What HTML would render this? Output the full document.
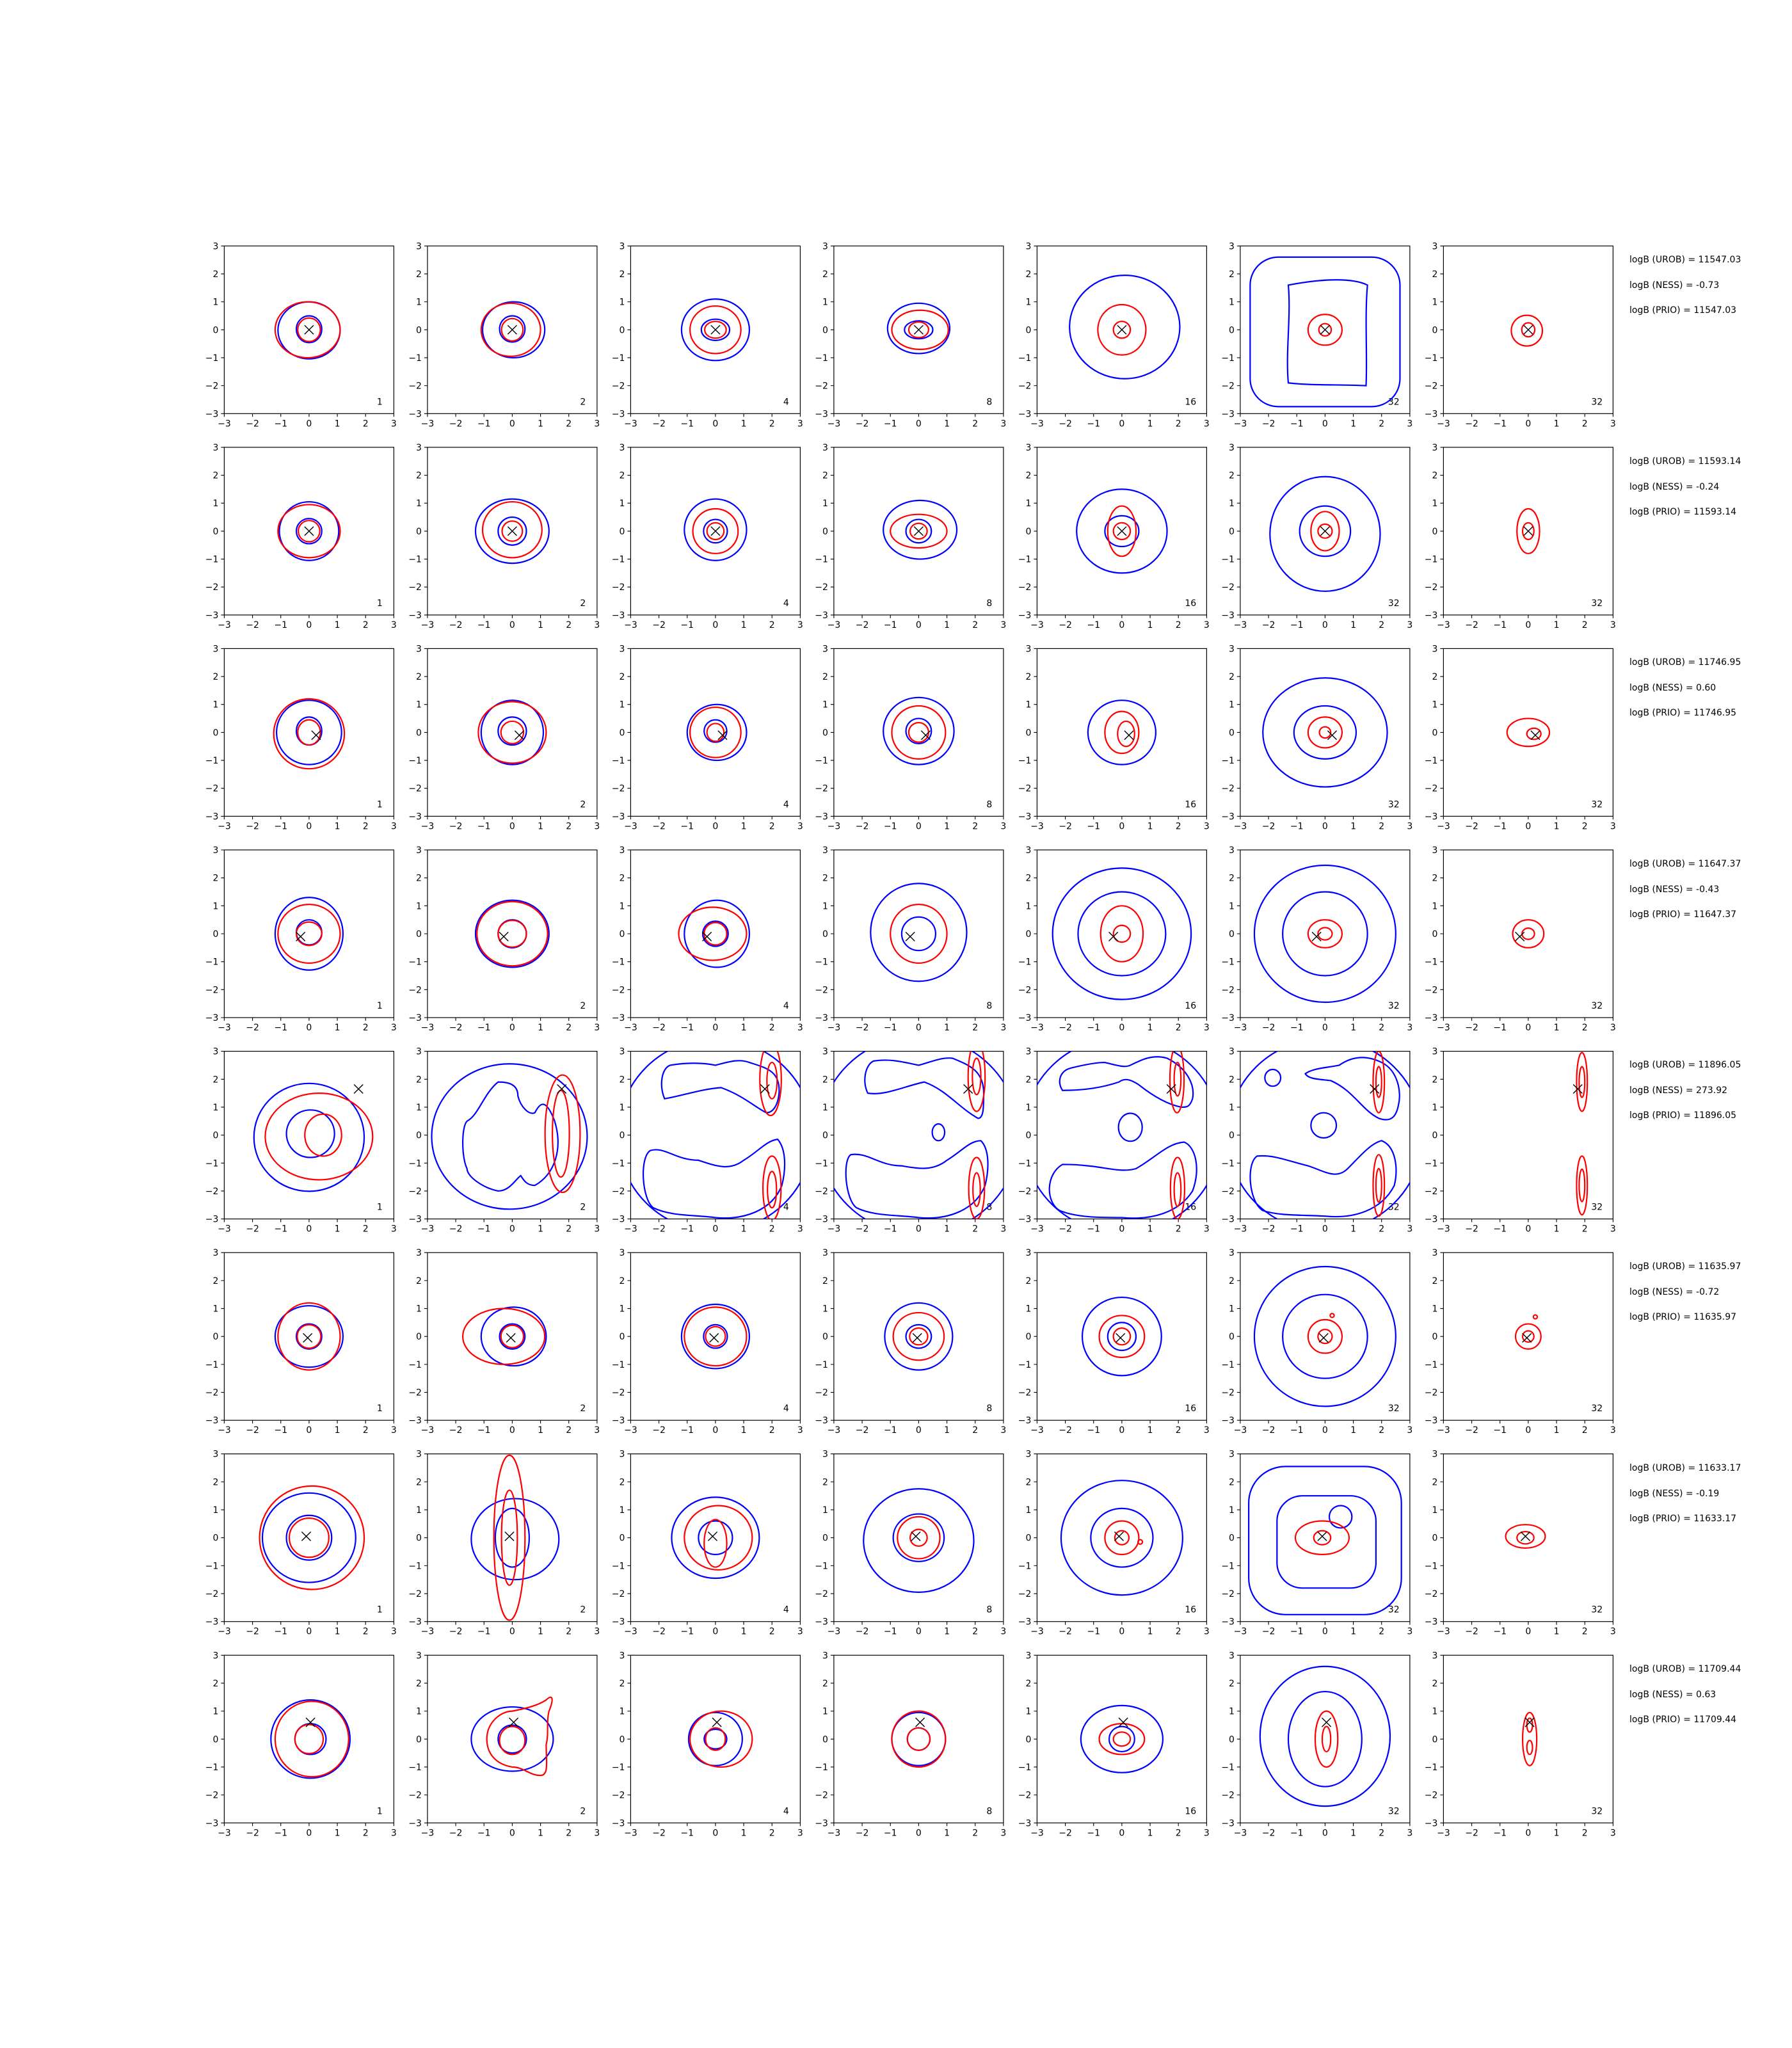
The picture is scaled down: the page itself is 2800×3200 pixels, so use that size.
<!DOCTYPE html>
<html><head><meta charset="utf-8"><style>
html,body{margin:0;padding:0;background:#fff;width:2800px;height:3200px;overflow:hidden}
svg{display:block}
text{font-family:"DejaVu Sans","Liberation Sans",sans-serif;font-size:14px;fill:#000}
.xl{text-anchor:middle}.yl{text-anchor:end}
.b,.r,.k{fill:none;vector-effect:non-scaling-stroke}
.b{stroke:#0000ff;stroke-width:2.2}.r{stroke:#ff0000;stroke-width:2.2}.k{stroke:#000;stroke-width:1.4}
</style></head><body>
<svg width="2800" height="3200" viewBox="0 0 2800 3200" xmlns="http://www.w3.org/2000/svg">
<defs>
<g id="ax"><rect x="0" y="0" width="265" height="262" fill="none" stroke="#000" stroke-width="1.2"/>
<path d="M0 262v5M44.17 262v5M88.33 262v5M132.5 262v5M176.67 262v5M220.83 262v5M265 262v5M0 0h-5M0 43.67h-5M0 87.33h-5M0 131h-5M0 174.67h-5M0 218.33h-5M0 262h-5" stroke="#000" stroke-width="1.1"/></g>
<clipPath id="cp" clipPathUnits="userSpaceOnUse"><rect x="-3" y="-3" width="6" height="6"/></clipPath>
<path id="mk" class="k" d="M-0.16,-0.16L0.16,0.16M-0.16,0.16L0.16,-0.16"/>
</defs>
<rect width="2800" height="3200" fill="#fff"/>

<!-- ROW 1 -->
<g transform="translate(350.4,384.3)"><use href="#ax"/><text class="xl" y="282"><tspan x="0">−3</tspan><tspan x="44.2">−2</tspan><tspan x="88.3">−1</tspan><tspan x="132.5">0</tspan><tspan x="176.7">1</tspan><tspan x="220.8">2</tspan><tspan x="265">3</tspan></text><text class="yl"><tspan x="-9" y="5">3</tspan><tspan x="-9" y="48.7">2</tspan><tspan x="-9" y="92.3">1</tspan><tspan x="-9" y="136">0</tspan><tspan x="-9" y="179.7">−1</tspan><tspan x="-9" y="223.3">−2</tspan><tspan x="-9" y="267">−3</tspan></text><text x="238.5" y="248">1</text>
<g transform="translate(132.5,131) scale(44.17,-43.67)" clip-path="url(#cp)"><ellipse class="b" cx="0" cy="-0.02" rx="1.1" ry="1.02"/><ellipse class="r" cx="-0.05" cy="0" rx="1.15" ry="1.0"/><ellipse class="b" cx="0" cy="0.02" rx="0.45" ry="0.48"/><ellipse class="r" cx="0" cy="0" rx="0.4" ry="0.42"/><use href="#mk"/></g></g>

<g transform="translate(667.9,384.3)"><use href="#ax"/><text class="xl" y="282"><tspan x="0">−3</tspan><tspan x="44.2">−2</tspan><tspan x="88.3">−1</tspan><tspan x="132.5">0</tspan><tspan x="176.7">1</tspan><tspan x="220.8">2</tspan><tspan x="265">3</tspan></text><text class="yl"><tspan x="-9" y="5">3</tspan><tspan x="-9" y="48.7">2</tspan><tspan x="-9" y="92.3">1</tspan><tspan x="-9" y="136">0</tspan><tspan x="-9" y="179.7">−1</tspan><tspan x="-9" y="223.3">−2</tspan><tspan x="-9" y="267">−3</tspan></text><text x="238.5" y="248">2</text>
<g transform="translate(132.5,131) scale(44.17,-43.67)" clip-path="url(#cp)"><ellipse class="b" cx="0.05" cy="0" rx="1.1" ry="1.0"/><ellipse class="r" cx="-0.05" cy="0" rx="1.05" ry="0.95"/><ellipse class="b" cx="0" cy="0.03" rx="0.45" ry="0.47"/><ellipse class="r" cx="0" cy="0" rx="0.38" ry="0.4"/><use href="#mk"/></g></g>

<g transform="translate(985.4,384.3)"><use href="#ax"/><text class="xl" y="282"><tspan x="0">−3</tspan><tspan x="44.2">−2</tspan><tspan x="88.3">−1</tspan><tspan x="132.5">0</tspan><tspan x="176.7">1</tspan><tspan x="220.8">2</tspan><tspan x="265">3</tspan></text><text class="yl"><tspan x="-9" y="5">3</tspan><tspan x="-9" y="48.7">2</tspan><tspan x="-9" y="92.3">1</tspan><tspan x="-9" y="136">0</tspan><tspan x="-9" y="179.7">−1</tspan><tspan x="-9" y="223.3">−2</tspan><tspan x="-9" y="267">−3</tspan></text><text x="238.5" y="248">4</text>
<g transform="translate(132.5,131) scale(44.17,-43.67)" clip-path="url(#cp)"><ellipse class="b" cx="0" cy="0" rx="1.2" ry="1.1"/><ellipse class="r" cx="0" cy="0" rx="0.9" ry="0.85"/><ellipse class="b" cx="0" cy="0" rx="0.5" ry="0.38"/><ellipse class="r" cx="0" cy="0" rx="0.38" ry="0.3"/><use href="#mk"/></g></g>

<g transform="translate(1302.9,384.3)"><use href="#ax"/><text class="xl" y="282"><tspan x="0">−3</tspan><tspan x="44.2">−2</tspan><tspan x="88.3">−1</tspan><tspan x="132.5">0</tspan><tspan x="176.7">1</tspan><tspan x="220.8">2</tspan><tspan x="265">3</tspan></text><text class="yl"><tspan x="-9" y="5">3</tspan><tspan x="-9" y="48.7">2</tspan><tspan x="-9" y="92.3">1</tspan><tspan x="-9" y="136">0</tspan><tspan x="-9" y="179.7">−1</tspan><tspan x="-9" y="223.3">−2</tspan><tspan x="-9" y="267">−3</tspan></text><text x="238.5" y="248">8</text>
<g transform="translate(132.5,131) scale(44.17,-43.67)" clip-path="url(#cp)"><ellipse class="b" cx="0" cy="0.05" rx="1.1" ry="0.9"/><ellipse class="r" cx="0.05" cy="0" rx="1.0" ry="0.7"/><ellipse class="b" cx="0" cy="0" rx="0.5" ry="0.32"/><ellipse class="r" cx="0" cy="0" rx="0.35" ry="0.28"/><use href="#mk"/></g></g>

<g transform="translate(1620.4,384.3)"><use href="#ax"/><text class="xl" y="282"><tspan x="0">−3</tspan><tspan x="44.2">−2</tspan><tspan x="88.3">−1</tspan><tspan x="132.5">0</tspan><tspan x="176.7">1</tspan><tspan x="220.8">2</tspan><tspan x="265">3</tspan></text><text class="yl"><tspan x="-9" y="5">3</tspan><tspan x="-9" y="48.7">2</tspan><tspan x="-9" y="92.3">1</tspan><tspan x="-9" y="136">0</tspan><tspan x="-9" y="179.7">−1</tspan><tspan x="-9" y="223.3">−2</tspan><tspan x="-9" y="267">−3</tspan></text><text x="231" y="248">16</text>
<g transform="translate(132.5,131) scale(44.17,-43.67)" clip-path="url(#cp)"><ellipse class="b" cx="0.1" cy="0.1" rx="1.95" ry="1.85"/><ellipse class="r" cx="0" cy="0" rx="0.85" ry="0.9"/><ellipse class="r" cx="0" cy="0" rx="0.3" ry="0.3"/><use href="#mk"/></g></g>

<g transform="translate(1937.9,384.3)"><use href="#ax"/><text class="xl" y="282"><tspan x="0">−3</tspan><tspan x="44.2">−2</tspan><tspan x="88.3">−1</tspan><tspan x="132.5">0</tspan><tspan x="176.7">1</tspan><tspan x="220.8">2</tspan><tspan x="265">3</tspan></text><text class="yl"><tspan x="-9" y="5">3</tspan><tspan x="-9" y="48.7">2</tspan><tspan x="-9" y="92.3">1</tspan><tspan x="-9" y="136">0</tspan><tspan x="-9" y="179.7">−1</tspan><tspan x="-9" y="223.3">−2</tspan><tspan x="-9" y="267">−3</tspan></text><text x="231" y="248">32</text>
<g transform="translate(132.5,131) scale(44.17,-43.67)" clip-path="url(#cp)"><rect class="b" x="-2.65" y="-2.75" width="5.3" height="5.35" rx="1" ry="1"/><path class="b" d="M-1.3,1.6 C-1.2,0.5 -1.4,-0.8 -1.3,-1.9 C-0.5,-2.0 0.6,-1.95 1.45,-2.0 C1.5,-1 1.4,0.5 1.5,1.6 C1,1.85 0,1.85 -1.3,1.6Z"/><ellipse class="r" cx="0" cy="0" rx="0.6" ry="0.55"/><ellipse class="r" cx="0" cy="0" rx="0.22" ry="0.22"/><use href="#mk"/></g></g>

<g transform="translate(2255.4,384.3)"><use href="#ax"/><text class="xl" y="282"><tspan x="0">−3</tspan><tspan x="44.2">−2</tspan><tspan x="88.3">−1</tspan><tspan x="132.5">0</tspan><tspan x="176.7">1</tspan><tspan x="220.8">2</tspan><tspan x="265">3</tspan></text><text class="yl"><tspan x="-9" y="5">3</tspan><tspan x="-9" y="48.7">2</tspan><tspan x="-9" y="92.3">1</tspan><tspan x="-9" y="136">0</tspan><tspan x="-9" y="179.7">−1</tspan><tspan x="-9" y="223.3">−2</tspan><tspan x="-9" y="267">−3</tspan></text><text x="231" y="248">32</text>
<g transform="translate(132.5,131) scale(44.17,-43.67)" clip-path="url(#cp)"><ellipse class="r" cx="-0.05" cy="-0.03" rx="0.55" ry="0.55"/><ellipse class="r" cx="0" cy="0" rx="0.23" ry="0.25"/><use href="#mk"/></g></g>
<text x="2546" y="410">logB (UROB) = 11547.03</text><text x="2546" y="450">logB (NESS) = -0.73</text><text x="2546" y="489">logB (PRIO) = 11547.03</text>

<!-- ROW 2 -->
<g transform="translate(350.4,698.9)"><use href="#ax"/><text class="xl" y="282"><tspan x="0">−3</tspan><tspan x="44.2">−2</tspan><tspan x="88.3">−1</tspan><tspan x="132.5">0</tspan><tspan x="176.7">1</tspan><tspan x="220.8">2</tspan><tspan x="265">3</tspan></text><text class="yl"><tspan x="-9" y="5">3</tspan><tspan x="-9" y="48.7">2</tspan><tspan x="-9" y="92.3">1</tspan><tspan x="-9" y="136">0</tspan><tspan x="-9" y="179.7">−1</tspan><tspan x="-9" y="223.3">−2</tspan><tspan x="-9" y="267">−3</tspan></text><text x="238.5" y="248">1</text>
<g transform="translate(132.5,131) scale(44.17,-43.67)" clip-path="url(#cp)"><ellipse class="b" cx="0" cy="0" rx="1.05" ry="1.05"/><ellipse class="r" cx="0" cy="0" rx="1.1" ry="0.95"/><ellipse class="b" cx="0" cy="0" rx="0.45" ry="0.45"/><ellipse class="r" cx="0" cy="0" rx="0.38" ry="0.38"/><use href="#mk"/></g></g>

<g transform="translate(667.9,698.9)"><use href="#ax"/><text class="xl" y="282"><tspan x="0">−3</tspan><tspan x="44.2">−2</tspan><tspan x="88.3">−1</tspan><tspan x="132.5">0</tspan><tspan x="176.7">1</tspan><tspan x="220.8">2</tspan><tspan x="265">3</tspan></text><text class="yl"><tspan x="-9" y="5">3</tspan><tspan x="-9" y="48.7">2</tspan><tspan x="-9" y="92.3">1</tspan><tspan x="-9" y="136">0</tspan><tspan x="-9" y="179.7">−1</tspan><tspan x="-9" y="223.3">−2</tspan><tspan x="-9" y="267">−3</tspan></text><text x="238.5" y="248">2</text>
<g transform="translate(132.5,131) scale(44.17,-43.67)" clip-path="url(#cp)"><ellipse class="b" cx="0" cy="0" rx="1.3" ry="1.15"/><ellipse class="r" cx="0" cy="0.05" rx="1.05" ry="1.0"/><ellipse class="b" cx="0" cy="0" rx="0.5" ry="0.5"/><ellipse class="r" cx="0" cy="0" rx="0.36" ry="0.36"/><use href="#mk"/></g></g>

<g transform="translate(985.4,698.9)"><use href="#ax"/><text class="xl" y="282"><tspan x="0">−3</tspan><tspan x="44.2">−2</tspan><tspan x="88.3">−1</tspan><tspan x="132.5">0</tspan><tspan x="176.7">1</tspan><tspan x="220.8">2</tspan><tspan x="265">3</tspan></text><text class="yl"><tspan x="-9" y="5">3</tspan><tspan x="-9" y="48.7">2</tspan><tspan x="-9" y="92.3">1</tspan><tspan x="-9" y="136">0</tspan><tspan x="-9" y="179.7">−1</tspan><tspan x="-9" y="223.3">−2</tspan><tspan x="-9" y="267">−3</tspan></text><text x="238.5" y="248">4</text>
<g transform="translate(132.5,131) scale(44.17,-43.67)" clip-path="url(#cp)"><ellipse class="b" cx="0" cy="0.05" rx="1.1" ry="1.1"/><ellipse class="r" cx="0" cy="0" rx="0.8" ry="0.8"/><ellipse class="b" cx="0" cy="0" rx="0.42" ry="0.42"/><ellipse class="r" cx="0" cy="0" rx="0.3" ry="0.3"/><use href="#mk"/></g></g>

<g transform="translate(1302.9,698.9)"><use href="#ax"/><text class="xl" y="282"><tspan x="0">−3</tspan><tspan x="44.2">−2</tspan><tspan x="88.3">−1</tspan><tspan x="132.5">0</tspan><tspan x="176.7">1</tspan><tspan x="220.8">2</tspan><tspan x="265">3</tspan></text><text class="yl"><tspan x="-9" y="5">3</tspan><tspan x="-9" y="48.7">2</tspan><tspan x="-9" y="92.3">1</tspan><tspan x="-9" y="136">0</tspan><tspan x="-9" y="179.7">−1</tspan><tspan x="-9" y="223.3">−2</tspan><tspan x="-9" y="267">−3</tspan></text><text x="238.5" y="248">8</text>
<g transform="translate(132.5,131) scale(44.17,-43.67)" clip-path="url(#cp)"><ellipse class="b" cx="0.05" cy="0.05" rx="1.3" ry="1.05"/><ellipse class="r" cx="0" cy="0" rx="1.0" ry="0.6"/><ellipse class="b" cx="0" cy="0" rx="0.45" ry="0.42"/><ellipse class="r" cx="0" cy="0" rx="0.3" ry="0.28"/><use href="#mk"/></g></g>

<g transform="translate(1620.4,698.9)"><use href="#ax"/><text class="xl" y="282"><tspan x="0">−3</tspan><tspan x="44.2">−2</tspan><tspan x="88.3">−1</tspan><tspan x="132.5">0</tspan><tspan x="176.7">1</tspan><tspan x="220.8">2</tspan><tspan x="265">3</tspan></text><text class="yl"><tspan x="-9" y="5">3</tspan><tspan x="-9" y="48.7">2</tspan><tspan x="-9" y="92.3">1</tspan><tspan x="-9" y="136">0</tspan><tspan x="-9" y="179.7">−1</tspan><tspan x="-9" y="223.3">−2</tspan><tspan x="-9" y="267">−3</tspan></text><text x="231" y="248">16</text>
<g transform="translate(132.5,131) scale(44.17,-43.67)" clip-path="url(#cp)"><ellipse class="b" cx="0" cy="0" rx="1.6" ry="1.5"/><ellipse class="b" cx="0" cy="0" rx="0.6" ry="0.55"/><ellipse class="r" cx="0" cy="0" rx="0.5" ry="0.9"/><ellipse class="r" cx="0" cy="0" rx="0.3" ry="0.3"/><use href="#mk"/></g></g>

<g transform="translate(1937.9,698.9)"><use href="#ax"/><text class="xl" y="282"><tspan x="0">−3</tspan><tspan x="44.2">−2</tspan><tspan x="88.3">−1</tspan><tspan x="132.5">0</tspan><tspan x="176.7">1</tspan><tspan x="220.8">2</tspan><tspan x="265">3</tspan></text><text class="yl"><tspan x="-9" y="5">3</tspan><tspan x="-9" y="48.7">2</tspan><tspan x="-9" y="92.3">1</tspan><tspan x="-9" y="136">0</tspan><tspan x="-9" y="179.7">−1</tspan><tspan x="-9" y="223.3">−2</tspan><tspan x="-9" y="267">−3</tspan></text><text x="231" y="248">32</text>
<g transform="translate(132.5,131) scale(44.17,-43.67)" clip-path="url(#cp)"><ellipse class="b" cx="0" cy="-0.1" rx="1.95" ry="2.05"/><ellipse class="b" cx="0" cy="0" rx="0.9" ry="0.9"/><ellipse class="r" cx="0" cy="0" rx="0.5" ry="0.7"/><ellipse class="r" cx="0" cy="0" rx="0.25" ry="0.25"/><use href="#mk"/></g></g>

<g transform="translate(2255.4,698.9)"><use href="#ax"/><text class="xl" y="282"><tspan x="0">−3</tspan><tspan x="44.2">−2</tspan><tspan x="88.3">−1</tspan><tspan x="132.5">0</tspan><tspan x="176.7">1</tspan><tspan x="220.8">2</tspan><tspan x="265">3</tspan></text><text class="yl"><tspan x="-9" y="5">3</tspan><tspan x="-9" y="48.7">2</tspan><tspan x="-9" y="92.3">1</tspan><tspan x="-9" y="136">0</tspan><tspan x="-9" y="179.7">−1</tspan><tspan x="-9" y="223.3">−2</tspan><tspan x="-9" y="267">−3</tspan></text><text x="231" y="248">32</text>
<g transform="translate(132.5,131) scale(44.17,-43.67)" clip-path="url(#cp)"><ellipse class="r" cx="0" cy="0" rx="0.4" ry="0.8"/><ellipse class="r" cx="0" cy="0" rx="0.2" ry="0.3"/><use href="#mk"/></g></g>
<text x="2546" y="725">logB (UROB) = 11593.14</text><text x="2546" y="765">logB (NESS) = -0.24</text><text x="2546" y="804">logB (PRIO) = 11593.14</text>

<!-- ROW 3 -->
<g transform="translate(350.4,1013.4)"><use href="#ax"/><text class="xl" y="282"><tspan x="0">−3</tspan><tspan x="44.2">−2</tspan><tspan x="88.3">−1</tspan><tspan x="132.5">0</tspan><tspan x="176.7">1</tspan><tspan x="220.8">2</tspan><tspan x="265">3</tspan></text><text class="yl"><tspan x="-9" y="5">3</tspan><tspan x="-9" y="48.7">2</tspan><tspan x="-9" y="92.3">1</tspan><tspan x="-9" y="136">0</tspan><tspan x="-9" y="179.7">−1</tspan><tspan x="-9" y="223.3">−2</tspan><tspan x="-9" y="267">−3</tspan></text><text x="238.5" y="248">1</text>
<g transform="translate(132.5,131) scale(44.17,-43.67)" clip-path="url(#cp)"><ellipse class="b" cx="0" cy="0" rx="1.15" ry="1.15"/><ellipse class="r" cx="0" cy="-0.05" rx="1.25" ry="1.25"/><ellipse class="b" cx="0" cy="0.05" rx="0.45" ry="0.5"/><ellipse class="r" cx="0" cy="0" rx="0.4" ry="0.45"/><use href="#mk" transform="translate(0.25,-0.1)"/></g></g>

<g transform="translate(667.9,1013.4)"><use href="#ax"/><text class="xl" y="282"><tspan x="0">−3</tspan><tspan x="44.2">−2</tspan><tspan x="88.3">−1</tspan><tspan x="132.5">0</tspan><tspan x="176.7">1</tspan><tspan x="220.8">2</tspan><tspan x="265">3</tspan></text><text class="yl"><tspan x="-9" y="5">3</tspan><tspan x="-9" y="48.7">2</tspan><tspan x="-9" y="92.3">1</tspan><tspan x="-9" y="136">0</tspan><tspan x="-9" y="179.7">−1</tspan><tspan x="-9" y="223.3">−2</tspan><tspan x="-9" y="267">−3</tspan></text><text x="238.5" y="248">2</text>
<g transform="translate(132.5,131) scale(44.17,-43.67)" clip-path="url(#cp)"><ellipse class="b" cx="0" cy="0" rx="1.1" ry="1.15"/><ellipse class="r" cx="0" cy="0" rx="1.2" ry="1.1"/><ellipse class="b" cx="0" cy="0.05" rx="0.5" ry="0.5"/><ellipse class="r" cx="0" cy="0" rx="0.4" ry="0.4"/><use href="#mk" transform="translate(0.25,-0.1)"/></g></g>

<g transform="translate(985.4,1013.4)"><use href="#ax"/><text class="xl" y="282"><tspan x="0">−3</tspan><tspan x="44.2">−2</tspan><tspan x="88.3">−1</tspan><tspan x="132.5">0</tspan><tspan x="176.7">1</tspan><tspan x="220.8">2</tspan><tspan x="265">3</tspan></text><text class="yl"><tspan x="-9" y="5">3</tspan><tspan x="-9" y="48.7">2</tspan><tspan x="-9" y="92.3">1</tspan><tspan x="-9" y="136">0</tspan><tspan x="-9" y="179.7">−1</tspan><tspan x="-9" y="223.3">−2</tspan><tspan x="-9" y="267">−3</tspan></text><text x="238.5" y="248">4</text>
<g transform="translate(132.5,131) scale(44.17,-43.67)" clip-path="url(#cp)"><ellipse class="b" cx="0.05" cy="0" rx="1.05" ry="1.0"/><ellipse class="r" cx="0" cy="0" rx="0.9" ry="0.9"/><ellipse class="b" cx="0" cy="0.05" rx="0.4" ry="0.4"/><ellipse class="r" cx="0" cy="0" rx="0.3" ry="0.32"/><use href="#mk" transform="translate(0.25,-0.1)"/></g></g>

<g transform="translate(1302.9,1013.4)"><use href="#ax"/><text class="xl" y="282"><tspan x="0">−3</tspan><tspan x="44.2">−2</tspan><tspan x="88.3">−1</tspan><tspan x="132.5">0</tspan><tspan x="176.7">1</tspan><tspan x="220.8">2</tspan><tspan x="265">3</tspan></text><text class="yl"><tspan x="-9" y="5">3</tspan><tspan x="-9" y="48.7">2</tspan><tspan x="-9" y="92.3">1</tspan><tspan x="-9" y="136">0</tspan><tspan x="-9" y="179.7">−1</tspan><tspan x="-9" y="223.3">−2</tspan><tspan x="-9" y="267">−3</tspan></text><text x="238.5" y="248">8</text>
<g transform="translate(132.5,131) scale(44.17,-43.67)" clip-path="url(#cp)"><ellipse class="b" cx="0" cy="0.05" rx="1.25" ry="1.2"/><ellipse class="r" cx="0" cy="0" rx="0.95" ry="0.95"/><ellipse class="b" cx="0" cy="0.05" rx="0.45" ry="0.45"/><ellipse class="r" cx="0" cy="0" rx="0.35" ry="0.35"/><use href="#mk" transform="translate(0.25,-0.1)"/></g></g>

<g transform="translate(1620.4,1013.4)"><use href="#ax"/><text class="xl" y="282"><tspan x="0">−3</tspan><tspan x="44.2">−2</tspan><tspan x="88.3">−1</tspan><tspan x="132.5">0</tspan><tspan x="176.7">1</tspan><tspan x="220.8">2</tspan><tspan x="265">3</tspan></text><text class="yl"><tspan x="-9" y="5">3</tspan><tspan x="-9" y="48.7">2</tspan><tspan x="-9" y="92.3">1</tspan><tspan x="-9" y="136">0</tspan><tspan x="-9" y="179.7">−1</tspan><tspan x="-9" y="223.3">−2</tspan><tspan x="-9" y="267">−3</tspan></text><text x="231" y="248">16</text>
<g transform="translate(132.5,131) scale(44.17,-43.67)" clip-path="url(#cp)"><ellipse class="b" cx="0" cy="0" rx="1.2" ry="1.15"/><ellipse class="r" cx="0" cy="0" rx="0.6" ry="0.75"/><ellipse class="r" cx="0.15" cy="-0.05" rx="0.3" ry="0.45"/><use href="#mk" transform="translate(0.25,-0.1)"/></g></g>

<g transform="translate(1937.9,1013.4)"><use href="#ax"/><text class="xl" y="282"><tspan x="0">−3</tspan><tspan x="44.2">−2</tspan><tspan x="88.3">−1</tspan><tspan x="132.5">0</tspan><tspan x="176.7">1</tspan><tspan x="220.8">2</tspan><tspan x="265">3</tspan></text><text class="yl"><tspan x="-9" y="5">3</tspan><tspan x="-9" y="48.7">2</tspan><tspan x="-9" y="92.3">1</tspan><tspan x="-9" y="136">0</tspan><tspan x="-9" y="179.7">−1</tspan><tspan x="-9" y="223.3">−2</tspan><tspan x="-9" y="267">−3</tspan></text><text x="231" y="248">32</text>
<g transform="translate(132.5,131) scale(44.17,-43.67)" clip-path="url(#cp)"><ellipse class="b" cx="0" cy="0" rx="2.2" ry="1.95"/><ellipse class="b" cx="0" cy="0" rx="1.1" ry="0.95"/><ellipse class="r" cx="0" cy="0" rx="0.6" ry="0.55"/><ellipse class="r" cx="0" cy="0" rx="0.2" ry="0.2"/><use href="#mk" transform="translate(0.25,-0.1)"/></g></g>

<g transform="translate(2255.4,1013.4)"><use href="#ax"/><text class="xl" y="282"><tspan x="0">−3</tspan><tspan x="44.2">−2</tspan><tspan x="88.3">−1</tspan><tspan x="132.5">0</tspan><tspan x="176.7">1</tspan><tspan x="220.8">2</tspan><tspan x="265">3</tspan></text><text class="yl"><tspan x="-9" y="5">3</tspan><tspan x="-9" y="48.7">2</tspan><tspan x="-9" y="92.3">1</tspan><tspan x="-9" y="136">0</tspan><tspan x="-9" y="179.7">−1</tspan><tspan x="-9" y="223.3">−2</tspan><tspan x="-9" y="267">−3</tspan></text><text x="231" y="248">32</text>
<g transform="translate(132.5,131) scale(44.17,-43.67)" clip-path="url(#cp)"><ellipse class="r" cx="0" cy="0" rx="0.75" ry="0.5"/><ellipse class="r" cx="0.2" cy="-0.05" rx="0.25" ry="0.2"/><use href="#mk" transform="translate(0.25,-0.1)"/></g></g>
<text x="2546" y="1039">logB (UROB) = 11746.95</text><text x="2546" y="1079">logB (NESS) = 0.60</text><text x="2546" y="1118">logB (PRIO) = 11746.95</text>

<!-- ROW 4 -->
<g transform="translate(350.4,1328)"><use href="#ax"/><text class="xl" y="282"><tspan x="0">−3</tspan><tspan x="44.2">−2</tspan><tspan x="88.3">−1</tspan><tspan x="132.5">0</tspan><tspan x="176.7">1</tspan><tspan x="220.8">2</tspan><tspan x="265">3</tspan></text><text class="yl"><tspan x="-9" y="5">3</tspan><tspan x="-9" y="48.7">2</tspan><tspan x="-9" y="92.3">1</tspan><tspan x="-9" y="136">0</tspan><tspan x="-9" y="179.7">−1</tspan><tspan x="-9" y="223.3">−2</tspan><tspan x="-9" y="267">−3</tspan></text><text x="238.5" y="248">1</text>
<g transform="translate(132.5,131) scale(44.17,-43.67)" clip-path="url(#cp)"><ellipse class="b" cx="0" cy="0" rx="1.2" ry="1.3"/><ellipse class="r" cx="0" cy="0" rx="1.1" ry="1.05"/><ellipse class="b" cx="0" cy="0.05" rx="0.45" ry="0.45"/><ellipse class="r" cx="0" cy="0" rx="0.45" ry="0.42"/><use href="#mk" transform="translate(-0.3,-0.1)"/></g></g>

<g transform="translate(667.9,1328)"><use href="#ax"/><text class="xl" y="282"><tspan x="0">−3</tspan><tspan x="44.2">−2</tspan><tspan x="88.3">−1</tspan><tspan x="132.5">0</tspan><tspan x="176.7">1</tspan><tspan x="220.8">2</tspan><tspan x="265">3</tspan></text><text class="yl"><tspan x="-9" y="5">3</tspan><tspan x="-9" y="48.7">2</tspan><tspan x="-9" y="92.3">1</tspan><tspan x="-9" y="136">0</tspan><tspan x="-9" y="179.7">−1</tspan><tspan x="-9" y="223.3">−2</tspan><tspan x="-9" y="267">−3</tspan></text><text x="238.5" y="248">2</text>
<g transform="translate(132.5,131) scale(44.17,-43.67)" clip-path="url(#cp)"><ellipse class="b" cx="0" cy="0" rx="1.3" ry="1.2"/><ellipse class="r" cx="0" cy="0" rx="1.25" ry="1.15"/><ellipse class="b" cx="0" cy="0" rx="0.5" ry="0.5"/><ellipse class="r" cx="0" cy="0" rx="0.5" ry="0.48"/><use href="#mk" transform="translate(-0.3,-0.1)"/></g></g>

<g transform="translate(985.4,1328)"><use href="#ax"/><text class="xl" y="282"><tspan x="0">−3</tspan><tspan x="44.2">−2</tspan><tspan x="88.3">−1</tspan><tspan x="132.5">0</tspan><tspan x="176.7">1</tspan><tspan x="220.8">2</tspan><tspan x="265">3</tspan></text><text class="yl"><tspan x="-9" y="5">3</tspan><tspan x="-9" y="48.7">2</tspan><tspan x="-9" y="92.3">1</tspan><tspan x="-9" y="136">0</tspan><tspan x="-9" y="179.7">−1</tspan><tspan x="-9" y="223.3">−2</tspan><tspan x="-9" y="267">−3</tspan></text><text x="238.5" y="248">4</text>
<g transform="translate(132.5,131) scale(44.17,-43.67)" clip-path="url(#cp)"><ellipse class="b" cx="0.05" cy="0" rx="1.15" ry="1.2"/><ellipse class="r" cx="-0.1" cy="0" rx="1.2" ry="0.95"/><ellipse class="b" cx="0" cy="0" rx="0.45" ry="0.45"/><ellipse class="r" cx="0" cy="0" rx="0.4" ry="0.4"/><use href="#mk" transform="translate(-0.3,-0.1)"/></g></g>

<g transform="translate(1302.9,1328)"><use href="#ax"/><text class="xl" y="282"><tspan x="0">−3</tspan><tspan x="44.2">−2</tspan><tspan x="88.3">−1</tspan><tspan x="132.5">0</tspan><tspan x="176.7">1</tspan><tspan x="220.8">2</tspan><tspan x="265">3</tspan></text><text class="yl"><tspan x="-9" y="5">3</tspan><tspan x="-9" y="48.7">2</tspan><tspan x="-9" y="92.3">1</tspan><tspan x="-9" y="136">0</tspan><tspan x="-9" y="179.7">−1</tspan><tspan x="-9" y="223.3">−2</tspan><tspan x="-9" y="267">−3</tspan></text><text x="238.5" y="248">8</text>
<g transform="translate(132.5,131) scale(44.17,-43.67)" clip-path="url(#cp)"><ellipse class="b" cx="0" cy="0.05" rx="1.7" ry="1.75"/><ellipse class="r" cx="0" cy="0" rx="1.0" ry="1.05"/><ellipse class="b" cx="0" cy="0" rx="0.6" ry="0.6"/><use href="#mk" transform="translate(-0.3,-0.1)"/></g></g>

<g transform="translate(1620.4,1328)"><use href="#ax"/><text class="xl" y="282"><tspan x="0">−3</tspan><tspan x="44.2">−2</tspan><tspan x="88.3">−1</tspan><tspan x="132.5">0</tspan><tspan x="176.7">1</tspan><tspan x="220.8">2</tspan><tspan x="265">3</tspan></text><text class="yl"><tspan x="-9" y="5">3</tspan><tspan x="-9" y="48.7">2</tspan><tspan x="-9" y="92.3">1</tspan><tspan x="-9" y="136">0</tspan><tspan x="-9" y="179.7">−1</tspan><tspan x="-9" y="223.3">−2</tspan><tspan x="-9" y="267">−3</tspan></text><text x="231" y="248">16</text>
<g transform="translate(132.5,131) scale(44.17,-43.67)" clip-path="url(#cp)"><ellipse class="b" cx="0" cy="0" rx="2.45" ry="2.35"/><ellipse class="b" cx="0" cy="0" rx="1.55" ry="1.5"/><ellipse class="r" cx="0" cy="0" rx="0.75" ry="1.0"/><ellipse class="r" cx="0" cy="0" rx="0.3" ry="0.3"/><use href="#mk" transform="translate(-0.3,-0.1)"/></g></g>

<g transform="translate(1937.9,1328)"><use href="#ax"/><text class="xl" y="282"><tspan x="0">−3</tspan><tspan x="44.2">−2</tspan><tspan x="88.3">−1</tspan><tspan x="132.5">0</tspan><tspan x="176.7">1</tspan><tspan x="220.8">2</tspan><tspan x="265">3</tspan></text><text class="yl"><tspan x="-9" y="5">3</tspan><tspan x="-9" y="48.7">2</tspan><tspan x="-9" y="92.3">1</tspan><tspan x="-9" y="136">0</tspan><tspan x="-9" y="179.7">−1</tspan><tspan x="-9" y="223.3">−2</tspan><tspan x="-9" y="267">−3</tspan></text><text x="231" y="248">32</text>
<g transform="translate(132.5,131) scale(44.17,-43.67)" clip-path="url(#cp)"><ellipse class="b" cx="0" cy="0" rx="2.5" ry="2.45"/><ellipse class="b" cx="0" cy="0" rx="1.5" ry="1.5"/><ellipse class="r" cx="0" cy="0" rx="0.6" ry="0.5"/><ellipse class="r" cx="0" cy="0" rx="0.25" ry="0.22"/><use href="#mk" transform="translate(-0.3,-0.1)"/></g></g>

<g transform="translate(2255.4,1328)"><use href="#ax"/><text class="xl" y="282"><tspan x="0">−3</tspan><tspan x="44.2">−2</tspan><tspan x="88.3">−1</tspan><tspan x="132.5">0</tspan><tspan x="176.7">1</tspan><tspan x="220.8">2</tspan><tspan x="265">3</tspan></text><text class="yl"><tspan x="-9" y="5">3</tspan><tspan x="-9" y="48.7">2</tspan><tspan x="-9" y="92.3">1</tspan><tspan x="-9" y="136">0</tspan><tspan x="-9" y="179.7">−1</tspan><tspan x="-9" y="223.3">−2</tspan><tspan x="-9" y="267">−3</tspan></text><text x="231" y="248">32</text>
<g transform="translate(132.5,131) scale(44.17,-43.67)" clip-path="url(#cp)"><ellipse class="r" cx="0" cy="0" rx="0.55" ry="0.5"/><ellipse class="r" cx="0" cy="0" rx="0.22" ry="0.2"/><use href="#mk" transform="translate(-0.3,-0.1)"/></g></g>
<text x="2546" y="1354">logB (UROB) = 11647.37</text><text x="2546" y="1394">logB (NESS) = -0.43</text><text x="2546" y="1433">logB (PRIO) = 11647.37</text>

<!-- ROW 5 -->
<g transform="translate(350.4,1642.6)"><use href="#ax"/><text class="xl" y="282"><tspan x="0">−3</tspan><tspan x="44.2">−2</tspan><tspan x="88.3">−1</tspan><tspan x="132.5">0</tspan><tspan x="176.7">1</tspan><tspan x="220.8">2</tspan><tspan x="265">3</tspan></text><text class="yl"><tspan x="-9" y="5">3</tspan><tspan x="-9" y="48.7">2</tspan><tspan x="-9" y="92.3">1</tspan><tspan x="-9" y="136">0</tspan><tspan x="-9" y="179.7">−1</tspan><tspan x="-9" y="223.3">−2</tspan><tspan x="-9" y="267">−3</tspan></text><text x="238.5" y="248">1</text>
<g transform="translate(132.5,131) scale(44.17,-43.67)" clip-path="url(#cp)"><ellipse class="b" cx="0" cy="-0.08" rx="1.95" ry="1.93"/><ellipse class="b" cx="0.05" cy="0.05" rx="0.85" ry="0.85"/><ellipse class="r" cx="0.35" cy="-0.05" rx="1.9" ry="1.55"/><ellipse class="r" cx="0.5" cy="0" rx="0.65" ry="0.75"/><use href="#mk" transform="translate(1.75,1.65)"/></g></g>

<g transform="translate(667.9,1642.6)"><use href="#ax"/><text class="xl" y="282"><tspan x="0">−3</tspan><tspan x="44.2">−2</tspan><tspan x="88.3">−1</tspan><tspan x="132.5">0</tspan><tspan x="176.7">1</tspan><tspan x="220.8">2</tspan><tspan x="265">3</tspan></text><text class="yl"><tspan x="-9" y="5">3</tspan><tspan x="-9" y="48.7">2</tspan><tspan x="-9" y="92.3">1</tspan><tspan x="-9" y="136">0</tspan><tspan x="-9" y="179.7">−1</tspan><tspan x="-9" y="223.3">−2</tspan><tspan x="-9" y="267">−3</tspan></text><text x="238.5" y="248">2</text>
<g transform="translate(132.5,131) scale(44.17,-43.67)" clip-path="url(#cp)"><ellipse class="b" cx="-0.1" cy="-0.05" rx="2.75" ry="2.6"/><path class="b" d="M-1.6,0.5 C-1.2,0.7 -1,1.5 -0.5,1.9 C-0.1,1.9 0.2,1.8 0.2,1.4 C0.3,1 0.6,0.7 0.8,0.8 C1.0,1.2 1.2,1.3 1.5,0.5 C1.8,-0.5 1.5,-1.4 0.8,-1.8 C0.5,-1.8 0.4,-1.6 0.3,-1.45 C0.1,-1.6 -0.1,-2 -0.5,-2 C-1,-1.9 -1.6,-1.5 -1.6,-1.2 C-1.8,-0.8 -1.8,0.3 -1.6,0.5Z"/><ellipse class="r" cx="1.78" cy="0.05" rx="0.62" ry="2.1"/><ellipse class="r" cx="1.72" cy="0.05" rx="0.3" ry="1.55"/><use href="#mk" transform="translate(1.75,1.65)"/></g></g>

<g transform="translate(985.4,1642.6)"><use href="#ax"/><text class="xl" y="282"><tspan x="0">−3</tspan><tspan x="44.2">−2</tspan><tspan x="88.3">−1</tspan><tspan x="132.5">0</tspan><tspan x="176.7">1</tspan><tspan x="220.8">2</tspan><tspan x="265">3</tspan></text><text class="yl"><tspan x="-9" y="5">3</tspan><tspan x="-9" y="48.7">2</tspan><tspan x="-9" y="92.3">1</tspan><tspan x="-9" y="136">0</tspan><tspan x="-9" y="179.7">−1</tspan><tspan x="-9" y="223.3">−2</tspan><tspan x="-9" y="267">−3</tspan></text><text x="238.5" y="248">4</text>
<g transform="translate(132.5,131) scale(44.17,-43.67)" clip-path="url(#cp)"><circle class="b" cx="0" cy="0" r="3.45"/><path class="b" d="M-1.8,1.3 C-2,1.8 -1.9,2.4 -1.6,2.5 C-1,2.6 -0.5,2.6 0,2.5 C0.4,2.6 0.8,2.75 1.2,2.6 C1.8,2.4 2.3,2.3 2.25,1.5 C2.2,1 2,0.8 1.8,0.8 C1.4,1 1,1.4 0.2,1.7 C-0.5,1.65 -1.2,1.4 -1.8,1.3Z"/><path class="b" d="M-2.3,-0.55 C-2.7,-0.8 -2.6,-2.3 -2.2,-2.6 C-1.6,-2.9 -0.8,-2.85 0,-2.95 C1,-3.05 2,-2.7 2.35,-1.8 C2.5,-1.2 2.5,-0.5 2.2,-0.15 C1.8,-0.2 1.5,-0.6 1,-0.9 C0.5,-1.3 0,-1.1 -0.6,-0.9 C-1.4,-0.9 -1.8,-0.4 -2.3,-0.55Z"/><ellipse class="r" cx="1.95" cy="2.0" rx="0.38" ry="1.3"/><ellipse class="r" cx="2.0" cy="1.95" rx="0.18" ry="0.65"/><ellipse class="r" cx="2.0" cy="-1.9" rx="0.32" ry="1.15"/><ellipse class="r" cx="2.0" cy="-1.95" rx="0.16" ry="0.65"/><use href="#mk" transform="translate(1.75,1.65)"/></g></g>

<g transform="translate(1302.9,1642.6)"><use href="#ax"/><text class="xl" y="282"><tspan x="0">−3</tspan><tspan x="44.2">−2</tspan><tspan x="88.3">−1</tspan><tspan x="132.5">0</tspan><tspan x="176.7">1</tspan><tspan x="220.8">2</tspan><tspan x="265">3</tspan></text><text class="yl"><tspan x="-9" y="5">3</tspan><tspan x="-9" y="48.7">2</tspan><tspan x="-9" y="92.3">1</tspan><tspan x="-9" y="136">0</tspan><tspan x="-9" y="179.7">−1</tspan><tspan x="-9" y="223.3">−2</tspan><tspan x="-9" y="267">−3</tspan></text><text x="238.5" y="248">8</text>
<g transform="translate(132.5,131) scale(44.17,-43.67)" clip-path="url(#cp)"><circle class="b" cx="0" cy="0" r="3.55"/><path class="b" d="M-1.8,1.5 C-2,1.9 -1.9,2.5 -1.6,2.65 C-1,2.75 -0.5,2.6 0,2.5 C0.4,2.6 0.8,2.8 1.2,2.75 C1.8,2.5 2.3,2.3 2.3,1.5 C2.3,1 2.3,0.6 2.1,0.6 C1.4,1 1,1.6 0.2,1.9 C-0.5,1.75 -1.2,1.4 -1.8,1.5Z"/><path class="b" d="M-2.4,-0.7 C-2.7,-0.9 -2.6,-2.3 -2.2,-2.6 C-1.6,-2.9 -0.8,-2.85 0,-2.95 C1,-3.05 2,-2.7 2.35,-1.8 C2.5,-1.2 2.5,-0.5 2.2,-0.2 C1.8,-0.2 1.5,-0.6 1,-0.9 C0.5,-1.3 0,-1.2 -0.6,-1.1 C-1.4,-1.1 -1.8,-0.6 -2.4,-0.7Z"/><ellipse class="b" cx="0.7" cy="0.1" rx="0.22" ry="0.3"/><ellipse class="r" cx="2.05" cy="2.1" rx="0.3" ry="1.25"/><ellipse class="r" cx="2.05" cy="2.1" rx="0.15" ry="0.65"/><ellipse class="r" cx="2.05" cy="-1.9" rx="0.28" ry="1.1"/><ellipse class="r" cx="2.05" cy="-1.95" rx="0.13" ry="0.6"/><use href="#mk" transform="translate(1.75,1.65)"/></g></g>

<g transform="translate(1620.4,1642.6)"><use href="#ax"/><text class="xl" y="282"><tspan x="0">−3</tspan><tspan x="44.2">−2</tspan><tspan x="88.3">−1</tspan><tspan x="132.5">0</tspan><tspan x="176.7">1</tspan><tspan x="220.8">2</tspan><tspan x="265">3</tspan></text><text class="yl"><tspan x="-9" y="5">3</tspan><tspan x="-9" y="48.7">2</tspan><tspan x="-9" y="92.3">1</tspan><tspan x="-9" y="136">0</tspan><tspan x="-9" y="179.7">−1</tspan><tspan x="-9" y="223.3">−2</tspan><tspan x="-9" y="267">−3</tspan></text><text x="231" y="248">16</text>
<g transform="translate(132.5,131) scale(44.17,-43.67)" clip-path="url(#cp)"><circle class="b" cx="0" cy="0" r="3.5"/><path class="b" d="M-2.1,1.6 C-2.3,1.9 -2.2,2.3 -1.8,2.4 C-1.2,2.55 -0.8,2.6 -0.6,2.6 C-0.2,2.5 0.1,2.4 0.3,2.5 C0.7,2.7 1.1,2.9 1.6,2.75 C2.3,2.4 2.6,1.8 2.5,1.3 C2.4,1 2.3,1.0 2.1,1.0 C1.6,1.1 1.1,1.4 0.6,1.8 C0.3,2.0 0.1,2.05 -0.1,1.9 C-0.7,1.7 -1.3,1.6 -2.1,1.6Z"/><path class="b" d="M-2.1,-1.05 C-2.7,-1.4 -2.7,-2.4 -2.2,-2.7 C-1.6,-2.95 -0.8,-2.95 0,-2.95 C1,-3.05 2,-2.8 2.5,-2.0 C2.8,-1.2 2.6,-0.4 2.2,-0.25 C1.6,-0.3 1.2,-0.8 0.5,-1.2 C0,-1.35 -0.6,-1.15 -1.2,-1.1 C-1.6,-1.05 -1.9,-1.05 -2.1,-1.05Z"/><ellipse class="b" cx="0.3" cy="0.28" rx="0.42" ry="0.5"/><ellipse class="r" cx="1.95" cy="2.0" rx="0.25" ry="1.2"/><ellipse class="r" cx="1.97" cy="2.0" rx="0.12" ry="0.6"/><ellipse class="r" cx="1.97" cy="-1.9" rx="0.25" ry="1.1"/><ellipse class="r" cx="1.97" cy="-1.95" rx="0.12" ry="0.6"/><use href="#mk" transform="translate(1.75,1.65)"/></g></g>

<g transform="translate(1937.9,1642.6)"><use href="#ax"/><text class="xl" y="282"><tspan x="0">−3</tspan><tspan x="44.2">−2</tspan><tspan x="88.3">−1</tspan><tspan x="132.5">0</tspan><tspan x="176.7">1</tspan><tspan x="220.8">2</tspan><tspan x="265">3</tspan></text><text class="yl"><tspan x="-9" y="5">3</tspan><tspan x="-9" y="48.7">2</tspan><tspan x="-9" y="92.3">1</tspan><tspan x="-9" y="136">0</tspan><tspan x="-9" y="179.7">−1</tspan><tspan x="-9" y="223.3">−2</tspan><tspan x="-9" y="267">−3</tspan></text><text x="231" y="248">32</text>
<g transform="translate(132.5,131) scale(44.17,-43.67)" clip-path="url(#cp)"><circle class="b" cx="0" cy="0" r="3.45"/><path class="b" d="M-0.7,2.2 C-0.4,2.4 0,2.4 0.5,2.5 C1,2.85 1.5,2.85 2,2.6 C2.6,2.3 2.7,1.5 2.6,1.1 C2.5,0.5 2.2,0.5 1.9,0.6 C1.3,0.9 1,1.6 0.2,1.95 C-0.2,2 -0.6,2 -0.7,2.2Z"/><path class="b" d="M-2.4,-0.75 C-2.8,-1 -2.7,-2.4 -2.2,-2.7 C-1.6,-2.9 -0.8,-2.85 0,-2.9 C1,-3.0 2,-2.7 2.45,-1.8 C2.6,-1.2 2.5,-0.4 2.0,-0.2 C1.6,-0.3 1.2,-0.8 0.8,-1.2 C0.4,-1.6 0,-1.3 -0.6,-1.1 C-1.4,-0.9 -1.8,-0.7 -2.4,-0.75Z"/><ellipse class="b" cx="-0.05" cy="0.35" rx="0.45" ry="0.45"/><ellipse class="b" cx="-1.85" cy="2.05" rx="0.28" ry="0.3"/><ellipse class="r" cx="1.9" cy="1.9" rx="0.2" ry="1.1"/><ellipse class="r" cx="1.9" cy="1.9" rx="0.1" ry="0.55"/><ellipse class="r" cx="1.9" cy="-1.8" rx="0.2" ry="1.1"/><ellipse class="r" cx="1.9" cy="-1.8" rx="0.1" ry="0.6"/><use href="#mk" transform="translate(1.75,1.65)"/></g></g>

<g transform="translate(2255.4,1642.6)"><use href="#ax"/><text class="xl" y="282"><tspan x="0">−3</tspan><tspan x="44.2">−2</tspan><tspan x="88.3">−1</tspan><tspan x="132.5">0</tspan><tspan x="176.7">1</tspan><tspan x="220.8">2</tspan><tspan x="265">3</tspan></text><text class="yl"><tspan x="-9" y="5">3</tspan><tspan x="-9" y="48.7">2</tspan><tspan x="-9" y="92.3">1</tspan><tspan x="-9" y="136">0</tspan><tspan x="-9" y="179.7">−1</tspan><tspan x="-9" y="223.3">−2</tspan><tspan x="-9" y="267">−3</tspan></text><text x="231" y="248">32</text>
<g transform="translate(132.5,131) scale(44.17,-43.67)" clip-path="url(#cp)"><ellipse class="r" cx="1.9" cy="1.9" rx="0.19" ry="1.05"/><ellipse class="r" cx="1.9" cy="1.9" rx="0.1" ry="0.55"/><ellipse class="r" cx="1.9" cy="-1.8" rx="0.19" ry="1.05"/><ellipse class="r" cx="1.9" cy="-1.8" rx="0.1" ry="0.58"/><use href="#mk" transform="translate(1.75,1.65)"/></g></g>
<text x="2546" y="1668">logB (UROB) = 11896.05</text><text x="2546" y="1708">logB (NESS) = 273.92</text><text x="2546" y="1747">logB (PRIO) = 11896.05</text>

<!-- ROW 6 -->
<g transform="translate(350.4,1957.2)"><use href="#ax"/><text class="xl" y="282"><tspan x="0">−3</tspan><tspan x="44.2">−2</tspan><tspan x="88.3">−1</tspan><tspan x="132.5">0</tspan><tspan x="176.7">1</tspan><tspan x="220.8">2</tspan><tspan x="265">3</tspan></text><text class="yl"><tspan x="-9" y="5">3</tspan><tspan x="-9" y="48.7">2</tspan><tspan x="-9" y="92.3">1</tspan><tspan x="-9" y="136">0</tspan><tspan x="-9" y="179.7">−1</tspan><tspan x="-9" y="223.3">−2</tspan><tspan x="-9" y="267">−3</tspan></text><text x="238.5" y="248">1</text>
<g transform="translate(132.5,131) scale(44.17,-43.67)" clip-path="url(#cp)"><ellipse class="b" cx="0" cy="0" rx="1.2" ry="1.1"/><ellipse class="r" cx="0" cy="0" rx="1.1" ry="1.2"/><ellipse class="b" cx="0" cy="0" rx="0.45" ry="0.45"/><ellipse class="r" cx="0" cy="0" rx="0.42" ry="0.42"/><use href="#mk" transform="translate(-0.05,-0.05)"/></g></g>

<g transform="translate(667.9,1957.2)"><use href="#ax"/><text class="xl" y="282"><tspan x="0">−3</tspan><tspan x="44.2">−2</tspan><tspan x="88.3">−1</tspan><tspan x="132.5">0</tspan><tspan x="176.7">1</tspan><tspan x="220.8">2</tspan><tspan x="265">3</tspan></text><text class="yl"><tspan x="-9" y="5">3</tspan><tspan x="-9" y="48.7">2</tspan><tspan x="-9" y="92.3">1</tspan><tspan x="-9" y="136">0</tspan><tspan x="-9" y="179.7">−1</tspan><tspan x="-9" y="223.3">−2</tspan><tspan x="-9" y="267">−3</tspan></text><text x="238.5" y="248">2</text>
<g transform="translate(132.5,131) scale(44.17,-43.67)" clip-path="url(#cp)"><ellipse class="b" cx="0.05" cy="0" rx="1.15" ry="1.05"/><ellipse class="r" cx="-0.3" cy="0" rx="1.45" ry="1.0"/><ellipse class="b" cx="0" cy="0" rx="0.45" ry="0.45"/><ellipse class="r" cx="0" cy="0" rx="0.4" ry="0.4"/><use href="#mk" transform="translate(-0.05,-0.05)"/></g></g>

<g transform="translate(985.4,1957.2)"><use href="#ax"/><text class="xl" y="282"><tspan x="0">−3</tspan><tspan x="44.2">−2</tspan><tspan x="88.3">−1</tspan><tspan x="132.5">0</tspan><tspan x="176.7">1</tspan><tspan x="220.8">2</tspan><tspan x="265">3</tspan></text><text class="yl"><tspan x="-9" y="5">3</tspan><tspan x="-9" y="48.7">2</tspan><tspan x="-9" y="92.3">1</tspan><tspan x="-9" y="136">0</tspan><tspan x="-9" y="179.7">−1</tspan><tspan x="-9" y="223.3">−2</tspan><tspan x="-9" y="267">−3</tspan></text><text x="238.5" y="248">4</text>
<g transform="translate(132.5,131) scale(44.17,-43.67)" clip-path="url(#cp)"><ellipse class="b" cx="0" cy="0" rx="1.2" ry="1.15"/><ellipse class="r" cx="0" cy="0" rx="1.1" ry="1.05"/><ellipse class="b" cx="0" cy="0" rx="0.42" ry="0.42"/><ellipse class="r" cx="0" cy="0" rx="0.35" ry="0.35"/><use href="#mk" transform="translate(-0.05,-0.05)"/></g></g>

<g transform="translate(1302.9,1957.2)"><use href="#ax"/><text class="xl" y="282"><tspan x="0">−3</tspan><tspan x="44.2">−2</tspan><tspan x="88.3">−1</tspan><tspan x="132.5">0</tspan><tspan x="176.7">1</tspan><tspan x="220.8">2</tspan><tspan x="265">3</tspan></text><text class="yl"><tspan x="-9" y="5">3</tspan><tspan x="-9" y="48.7">2</tspan><tspan x="-9" y="92.3">1</tspan><tspan x="-9" y="136">0</tspan><tspan x="-9" y="179.7">−1</tspan><tspan x="-9" y="223.3">−2</tspan><tspan x="-9" y="267">−3</tspan></text><text x="238.5" y="248">8</text>
<g transform="translate(132.5,131) scale(44.17,-43.67)" clip-path="url(#cp)"><ellipse class="b" cx="0" cy="0" rx="1.2" ry="1.2"/><ellipse class="r" cx="0" cy="0" rx="0.9" ry="0.85"/><ellipse class="b" cx="0" cy="0" rx="0.45" ry="0.42"/><ellipse class="r" cx="0" cy="0" rx="0.32" ry="0.3"/><use href="#mk" transform="translate(-0.05,-0.05)"/></g></g>

<g transform="translate(1620.4,1957.2)"><use href="#ax"/><text class="xl" y="282"><tspan x="0">−3</tspan><tspan x="44.2">−2</tspan><tspan x="88.3">−1</tspan><tspan x="132.5">0</tspan><tspan x="176.7">1</tspan><tspan x="220.8">2</tspan><tspan x="265">3</tspan></text><text class="yl"><tspan x="-9" y="5">3</tspan><tspan x="-9" y="48.7">2</tspan><tspan x="-9" y="92.3">1</tspan><tspan x="-9" y="136">0</tspan><tspan x="-9" y="179.7">−1</tspan><tspan x="-9" y="223.3">−2</tspan><tspan x="-9" y="267">−3</tspan></text><text x="231" y="248">16</text>
<g transform="translate(132.5,131) scale(44.17,-43.67)" clip-path="url(#cp)"><ellipse class="b" cx="0" cy="0" rx="1.4" ry="1.4"/><ellipse class="r" cx="0" cy="0" rx="0.8" ry="0.75"/><ellipse class="b" cx="0" cy="0" rx="0.5" ry="0.5"/><ellipse class="r" cx="0" cy="0" rx="0.3" ry="0.3"/><use href="#mk" transform="translate(-0.05,-0.05)"/></g></g>

<g transform="translate(1937.9,1957.2)"><use href="#ax"/><text class="xl" y="282"><tspan x="0">−3</tspan><tspan x="44.2">−2</tspan><tspan x="88.3">−1</tspan><tspan x="132.5">0</tspan><tspan x="176.7">1</tspan><tspan x="220.8">2</tspan><tspan x="265">3</tspan></text><text class="yl"><tspan x="-9" y="5">3</tspan><tspan x="-9" y="48.7">2</tspan><tspan x="-9" y="92.3">1</tspan><tspan x="-9" y="136">0</tspan><tspan x="-9" y="179.7">−1</tspan><tspan x="-9" y="223.3">−2</tspan><tspan x="-9" y="267">−3</tspan></text><text x="231" y="248">32</text>
<g transform="translate(132.5,131) scale(44.17,-43.67)" clip-path="url(#cp)"><ellipse class="b" cx="0" cy="0" rx="2.5" ry="2.5"/><ellipse class="b" cx="0" cy="0" rx="1.5" ry="1.5"/><ellipse class="r" cx="0" cy="0" rx="0.6" ry="0.6"/><ellipse class="r" cx="0" cy="0" rx="0.25" ry="0.25"/><ellipse class="r" cx="0.25" cy="0.75" rx="0.07" ry="0.07"/><use href="#mk" transform="translate(-0.05,-0.05)"/></g></g>

<g transform="translate(2255.4,1957.2)"><use href="#ax"/><text class="xl" y="282"><tspan x="0">−3</tspan><tspan x="44.2">−2</tspan><tspan x="88.3">−1</tspan><tspan x="132.5">0</tspan><tspan x="176.7">1</tspan><tspan x="220.8">2</tspan><tspan x="265">3</tspan></text><text class="yl"><tspan x="-9" y="5">3</tspan><tspan x="-9" y="48.7">2</tspan><tspan x="-9" y="92.3">1</tspan><tspan x="-9" y="136">0</tspan><tspan x="-9" y="179.7">−1</tspan><tspan x="-9" y="223.3">−2</tspan><tspan x="-9" y="267">−3</tspan></text><text x="231" y="248">32</text>
<g transform="translate(132.5,131) scale(44.17,-43.67)" clip-path="url(#cp)"><ellipse class="r" cx="0" cy="0" rx="0.45" ry="0.45"/><ellipse class="r" cx="0" cy="0" rx="0.2" ry="0.2"/><ellipse class="r" cx="0.25" cy="0.7" rx="0.07" ry="0.07"/><use href="#mk" transform="translate(-0.05,-0.05)"/></g></g>
<text x="2546" y="1983">logB (UROB) = 11635.97</text><text x="2546" y="2023">logB (NESS) = -0.72</text><text x="2546" y="2062">logB (PRIO) = 11635.97</text>

<!-- ROW 7 -->
<g transform="translate(350.4,2271.7)"><use href="#ax"/><text class="xl" y="282"><tspan x="0">−3</tspan><tspan x="44.2">−2</tspan><tspan x="88.3">−1</tspan><tspan x="132.5">0</tspan><tspan x="176.7">1</tspan><tspan x="220.8">2</tspan><tspan x="265">3</tspan></text><text class="yl"><tspan x="-9" y="5">3</tspan><tspan x="-9" y="48.7">2</tspan><tspan x="-9" y="92.3">1</tspan><tspan x="-9" y="136">0</tspan><tspan x="-9" y="179.7">−1</tspan><tspan x="-9" y="223.3">−2</tspan><tspan x="-9" y="267">−3</tspan></text><text x="238.5" y="248">1</text>
<g transform="translate(132.5,131) scale(44.17,-43.67)" clip-path="url(#cp)"><ellipse class="b" cx="0" cy="0" rx="1.65" ry="1.6"/><ellipse class="r" cx="0.1" cy="0" rx="1.85" ry="1.85"/><ellipse class="b" cx="0" cy="0" rx="0.8" ry="0.8"/><ellipse class="r" cx="0" cy="0" rx="0.7" ry="0.7"/><use href="#mk" transform="translate(-0.1,0.05)"/></g></g>

<g transform="translate(667.9,2271.7)"><use href="#ax"/><text class="xl" y="282"><tspan x="0">−3</tspan><tspan x="44.2">−2</tspan><tspan x="88.3">−1</tspan><tspan x="132.5">0</tspan><tspan x="176.7">1</tspan><tspan x="220.8">2</tspan><tspan x="265">3</tspan></text><text class="yl"><tspan x="-9" y="5">3</tspan><tspan x="-9" y="48.7">2</tspan><tspan x="-9" y="92.3">1</tspan><tspan x="-9" y="136">0</tspan><tspan x="-9" y="179.7">−1</tspan><tspan x="-9" y="223.3">−2</tspan><tspan x="-9" y="267">−3</tspan></text><text x="238.5" y="248">2</text>
<g transform="translate(132.5,131) scale(44.17,-43.67)" clip-path="url(#cp)"><ellipse class="b" cx="0.1" cy="-0.05" rx="1.55" ry="1.45"/><ellipse class="b" cx="0" cy="0" rx="0.6" ry="1.05"/><ellipse class="r" cx="-0.1" cy="0" rx="0.55" ry="2.95"/><ellipse class="r" cx="-0.1" cy="0" rx="0.28" ry="1.7"/><use href="#mk" transform="translate(-0.1,0.05)"/></g></g>

<g transform="translate(985.4,2271.7)"><use href="#ax"/><text class="xl" y="282"><tspan x="0">−3</tspan><tspan x="44.2">−2</tspan><tspan x="88.3">−1</tspan><tspan x="132.5">0</tspan><tspan x="176.7">1</tspan><tspan x="220.8">2</tspan><tspan x="265">3</tspan></text><text class="yl"><tspan x="-9" y="5">3</tspan><tspan x="-9" y="48.7">2</tspan><tspan x="-9" y="92.3">1</tspan><tspan x="-9" y="136">0</tspan><tspan x="-9" y="179.7">−1</tspan><tspan x="-9" y="223.3">−2</tspan><tspan x="-9" y="267">−3</tspan></text><text x="238.5" y="248">4</text>
<g transform="translate(132.5,131) scale(44.17,-43.67)" clip-path="url(#cp)"><ellipse class="b" cx="0" cy="0" rx="1.55" ry="1.45"/><ellipse class="r" cx="0.1" cy="0" rx="1.2" ry="1.15"/><ellipse class="b" cx="0" cy="0" rx="0.6" ry="0.6"/><ellipse class="r" cx="0" cy="-0.2" rx="0.4" ry="0.85"/><use href="#mk" transform="translate(-0.1,0.05)"/></g></g>

<g transform="translate(1302.9,2271.7)"><use href="#ax"/><text class="xl" y="282"><tspan x="0">−3</tspan><tspan x="44.2">−2</tspan><tspan x="88.3">−1</tspan><tspan x="132.5">0</tspan><tspan x="176.7">1</tspan><tspan x="220.8">2</tspan><tspan x="265">3</tspan></text><text class="yl"><tspan x="-9" y="5">3</tspan><tspan x="-9" y="48.7">2</tspan><tspan x="-9" y="92.3">1</tspan><tspan x="-9" y="136">0</tspan><tspan x="-9" y="179.7">−1</tspan><tspan x="-9" y="223.3">−2</tspan><tspan x="-9" y="267">−3</tspan></text><text x="238.5" y="248">8</text>
<g transform="translate(132.5,131) scale(44.17,-43.67)" clip-path="url(#cp)"><ellipse class="b" cx="0" cy="-0.1" rx="1.95" ry="1.85"/><ellipse class="b" cx="0" cy="0" rx="0.9" ry="0.85"/><ellipse class="r" cx="0" cy="0" rx="0.75" ry="0.75"/><ellipse class="r" cx="0" cy="0" rx="0.3" ry="0.3"/><use href="#mk" transform="translate(-0.1,0.05)"/></g></g>

<g transform="translate(1620.4,2271.7)"><use href="#ax"/><text class="xl" y="282"><tspan x="0">−3</tspan><tspan x="44.2">−2</tspan><tspan x="88.3">−1</tspan><tspan x="132.5">0</tspan><tspan x="176.7">1</tspan><tspan x="220.8">2</tspan><tspan x="265">3</tspan></text><text class="yl"><tspan x="-9" y="5">3</tspan><tspan x="-9" y="48.7">2</tspan><tspan x="-9" y="92.3">1</tspan><tspan x="-9" y="136">0</tspan><tspan x="-9" y="179.7">−1</tspan><tspan x="-9" y="223.3">−2</tspan><tspan x="-9" y="267">−3</tspan></text><text x="231" y="248">16</text>
<g transform="translate(132.5,131) scale(44.17,-43.67)" clip-path="url(#cp)"><ellipse class="b" cx="0" cy="0" rx="2.15" ry="2.05"/><ellipse class="b" cx="0" cy="0" rx="1.1" ry="1.05"/><ellipse class="r" cx="0" cy="0" rx="0.6" ry="0.6"/><ellipse class="r" cx="0" cy="0" rx="0.25" ry="0.25"/><ellipse class="r" cx="0.65" cy="-0.15" rx="0.08" ry="0.08"/><use href="#mk" transform="translate(-0.1,0.05)"/></g></g>

<g transform="translate(1937.9,2271.7)"><use href="#ax"/><text class="xl" y="282"><tspan x="0">−3</tspan><tspan x="44.2">−2</tspan><tspan x="88.3">−1</tspan><tspan x="132.5">0</tspan><tspan x="176.7">1</tspan><tspan x="220.8">2</tspan><tspan x="265">3</tspan></text><text class="yl"><tspan x="-9" y="5">3</tspan><tspan x="-9" y="48.7">2</tspan><tspan x="-9" y="92.3">1</tspan><tspan x="-9" y="136">0</tspan><tspan x="-9" y="179.7">−1</tspan><tspan x="-9" y="223.3">−2</tspan><tspan x="-9" y="267">−3</tspan></text><text x="231" y="248">32</text>
<g transform="translate(132.5,131) scale(44.17,-43.67)" clip-path="url(#cp)"><rect class="b" x="-2.7" y="-2.75" width="5.4" height="5.3" rx="1.3" ry="1.3"/><rect class="b" x="-1.7" y="-1.8" width="3.5" height="3.3" rx="0.9" ry="0.9"/><ellipse class="b" cx="0.55" cy="0.75" rx="0.4" ry="0.4"/><ellipse class="r" cx="-0.1" cy="0" rx="0.95" ry="0.6"/><ellipse class="r" cx="-0.1" cy="0" rx="0.3" ry="0.25"/><use href="#mk" transform="translate(-0.1,0.05)"/></g></g>

<g transform="translate(2255.4,2271.7)"><use href="#ax"/><text class="xl" y="282"><tspan x="0">−3</tspan><tspan x="44.2">−2</tspan><tspan x="88.3">−1</tspan><tspan x="132.5">0</tspan><tspan x="176.7">1</tspan><tspan x="220.8">2</tspan><tspan x="265">3</tspan></text><text class="yl"><tspan x="-9" y="5">3</tspan><tspan x="-9" y="48.7">2</tspan><tspan x="-9" y="92.3">1</tspan><tspan x="-9" y="136">0</tspan><tspan x="-9" y="179.7">−1</tspan><tspan x="-9" y="223.3">−2</tspan><tspan x="-9" y="267">−3</tspan></text><text x="231" y="248">32</text>
<g transform="translate(132.5,131) scale(44.17,-43.67)" clip-path="url(#cp)"><ellipse class="r" cx="-0.1" cy="0.05" rx="0.7" ry="0.42"/><ellipse class="r" cx="-0.1" cy="0" rx="0.3" ry="0.22"/><use href="#mk" transform="translate(-0.1,0.05)"/></g></g>
<text x="2546" y="2298">logB (UROB) = 11633.17</text><text x="2546" y="2338">logB (NESS) = -0.19</text><text x="2546" y="2377">logB (PRIO) = 11633.17</text>

<!-- ROW 8 -->
<g transform="translate(350.4,2586.3)"><use href="#ax"/><text class="xl" y="282"><tspan x="0">−3</tspan><tspan x="44.2">−2</tspan><tspan x="88.3">−1</tspan><tspan x="132.5">0</tspan><tspan x="176.7">1</tspan><tspan x="220.8">2</tspan><tspan x="265">3</tspan></text><text class="yl"><tspan x="-9" y="5">3</tspan><tspan x="-9" y="48.7">2</tspan><tspan x="-9" y="92.3">1</tspan><tspan x="-9" y="136">0</tspan><tspan x="-9" y="179.7">−1</tspan><tspan x="-9" y="223.3">−2</tspan><tspan x="-9" y="267">−3</tspan></text><text x="238.5" y="248">1</text>
<g transform="translate(132.5,131) scale(44.17,-43.67)" clip-path="url(#cp)"><ellipse class="b" cx="0.05" cy="0" rx="1.4" ry="1.4"/><ellipse class="r" cx="0.1" cy="0" rx="1.3" ry="1.35"/><ellipse class="b" cx="0.05" cy="0" rx="0.55" ry="0.55"/><ellipse class="r" cx="0" cy="0" rx="0.5" ry="0.52"/><use href="#mk" transform="translate(0.05,0.6)"/></g></g>

<g transform="translate(667.9,2586.3)"><use href="#ax"/><text class="xl" y="282"><tspan x="0">−3</tspan><tspan x="44.2">−2</tspan><tspan x="88.3">−1</tspan><tspan x="132.5">0</tspan><tspan x="176.7">1</tspan><tspan x="220.8">2</tspan><tspan x="265">3</tspan></text><text class="yl"><tspan x="-9" y="5">3</tspan><tspan x="-9" y="48.7">2</tspan><tspan x="-9" y="92.3">1</tspan><tspan x="-9" y="136">0</tspan><tspan x="-9" y="179.7">−1</tspan><tspan x="-9" y="223.3">−2</tspan><tspan x="-9" y="267">−3</tspan></text><text x="238.5" y="248">2</text>
<g transform="translate(132.5,131) scale(44.17,-43.67)" clip-path="url(#cp)"><ellipse class="b" cx="0" cy="0" rx="1.45" ry="1.15"/><path class="r" d="M-0.9,0 C-0.9,0.6 -0.4,1 0,1 C0.5,1.1 0.9,1.2 1.2,1.4 C1.4,1.6 1.5,1.5 1.3,1.0 C1.2,0.6 1.3,0.2 1.2,-0.2 C1.2,-0.8 1.3,-1.3 1.0,-1.3 C0.6,-1.3 0.4,-1.0 0,-1.0 C-0.6,-0.9 -0.9,-0.5 -0.9,0Z"/><ellipse class="b" cx="0" cy="0" rx="0.5" ry="0.5"/><ellipse class="r" cx="0" cy="-0.05" rx="0.45" ry="0.5"/><use href="#mk" transform="translate(0.05,0.6)"/></g></g>

<g transform="translate(985.4,2586.3)"><use href="#ax"/><text class="xl" y="282"><tspan x="0">−3</tspan><tspan x="44.2">−2</tspan><tspan x="88.3">−1</tspan><tspan x="132.5">0</tspan><tspan x="176.7">1</tspan><tspan x="220.8">2</tspan><tspan x="265">3</tspan></text><text class="yl"><tspan x="-9" y="5">3</tspan><tspan x="-9" y="48.7">2</tspan><tspan x="-9" y="92.3">1</tspan><tspan x="-9" y="136">0</tspan><tspan x="-9" y="179.7">−1</tspan><tspan x="-9" y="223.3">−2</tspan><tspan x="-9" y="267">−3</tspan></text><text x="238.5" y="248">4</text>
<g transform="translate(132.5,131) scale(44.17,-43.67)" clip-path="url(#cp)"><ellipse class="b" cx="0" cy="0" rx="0.95" ry="0.95"/><ellipse class="r" cx="0.2" cy="0" rx="1.1" ry="1.0"/><ellipse class="b" cx="0" cy="0" rx="0.4" ry="0.35"/><ellipse class="r" cx="0" cy="0" rx="0.35" ry="0.4"/><use href="#mk" transform="translate(0.05,0.6)"/></g></g>

<g transform="translate(1302.9,2586.3)"><use href="#ax"/><text class="xl" y="282"><tspan x="0">−3</tspan><tspan x="44.2">−2</tspan><tspan x="88.3">−1</tspan><tspan x="132.5">0</tspan><tspan x="176.7">1</tspan><tspan x="220.8">2</tspan><tspan x="265">3</tspan></text><text class="yl"><tspan x="-9" y="5">3</tspan><tspan x="-9" y="48.7">2</tspan><tspan x="-9" y="92.3">1</tspan><tspan x="-9" y="136">0</tspan><tspan x="-9" y="179.7">−1</tspan><tspan x="-9" y="223.3">−2</tspan><tspan x="-9" y="267">−3</tspan></text><text x="238.5" y="248">8</text>
<g transform="translate(132.5,131) scale(44.17,-43.67)" clip-path="url(#cp)"><ellipse class="b" cx="0" cy="0" rx="0.95" ry="0.95"/><ellipse class="r" cx="0" cy="0" rx="0.95" ry="1.0"/><ellipse class="b" cx="0" cy="0" rx="0.4" ry="0.4"/><ellipse class="r" cx="0" cy="0" rx="0.4" ry="0.4"/><use href="#mk" transform="translate(0.05,0.6)"/></g></g>

<g transform="translate(1620.4,2586.3)"><use href="#ax"/><text class="xl" y="282"><tspan x="0">−3</tspan><tspan x="44.2">−2</tspan><tspan x="88.3">−1</tspan><tspan x="132.5">0</tspan><tspan x="176.7">1</tspan><tspan x="220.8">2</tspan><tspan x="265">3</tspan></text><text class="yl"><tspan x="-9" y="5">3</tspan><tspan x="-9" y="48.7">2</tspan><tspan x="-9" y="92.3">1</tspan><tspan x="-9" y="136">0</tspan><tspan x="-9" y="179.7">−1</tspan><tspan x="-9" y="223.3">−2</tspan><tspan x="-9" y="267">−3</tspan></text><text x="231" y="248">16</text>
<g transform="translate(132.5,131) scale(44.17,-43.67)" clip-path="url(#cp)"><ellipse class="b" cx="0" cy="0" rx="1.45" ry="1.2"/><ellipse class="r" cx="0" cy="0" rx="0.8" ry="0.55"/><ellipse class="b" cx="0" cy="0" rx="0.45" ry="0.45"/><ellipse class="r" cx="0" cy="0" rx="0.3" ry="0.25"/><use href="#mk" transform="translate(0.05,0.6)"/></g></g>

<g transform="translate(1937.9,2586.3)"><use href="#ax"/><text class="xl" y="282"><tspan x="0">−3</tspan><tspan x="44.2">−2</tspan><tspan x="88.3">−1</tspan><tspan x="132.5">0</tspan><tspan x="176.7">1</tspan><tspan x="220.8">2</tspan><tspan x="265">3</tspan></text><text class="yl"><tspan x="-9" y="5">3</tspan><tspan x="-9" y="48.7">2</tspan><tspan x="-9" y="92.3">1</tspan><tspan x="-9" y="136">0</tspan><tspan x="-9" y="179.7">−1</tspan><tspan x="-9" y="223.3">−2</tspan><tspan x="-9" y="267">−3</tspan></text><text x="231" y="248">32</text>
<g transform="translate(132.5,131) scale(44.17,-43.67)" clip-path="url(#cp)"><ellipse class="b" cx="0" cy="0.1" rx="2.3" ry="2.5"/><ellipse class="b" cx="0" cy="0" rx="1.3" ry="1.7"/><ellipse class="r" cx="0.05" cy="0" rx="0.4" ry="1.0"/><ellipse class="r" cx="0.05" cy="0" rx="0.15" ry="0.45"/><use href="#mk" transform="translate(0.05,0.6)"/></g></g>

<g transform="translate(2255.4,2586.3)"><use href="#ax"/><text class="xl" y="282"><tspan x="0">−3</tspan><tspan x="44.2">−2</tspan><tspan x="88.3">−1</tspan><tspan x="132.5">0</tspan><tspan x="176.7">1</tspan><tspan x="220.8">2</tspan><tspan x="265">3</tspan></text><text class="yl"><tspan x="-9" y="5">3</tspan><tspan x="-9" y="48.7">2</tspan><tspan x="-9" y="92.3">1</tspan><tspan x="-9" y="136">0</tspan><tspan x="-9" y="179.7">−1</tspan><tspan x="-9" y="223.3">−2</tspan><tspan x="-9" y="267">−3</tspan></text><text x="231" y="248">32</text>
<g transform="translate(132.5,131) scale(44.17,-43.67)" clip-path="url(#cp)"><ellipse class="r" cx="0.05" cy="0" rx="0.25" ry="0.95"/><ellipse class="r" cx="0.05" cy="0.5" rx="0.1" ry="0.25"/><ellipse class="r" cx="0.05" cy="-0.3" rx="0.1" ry="0.25"/><use href="#mk" transform="translate(0.05,0.6)"/></g></g>
<text x="2546" y="2612">logB (UROB) = 11709.44</text><text x="2546" y="2652">logB (NESS) = 0.63</text><text x="2546" y="2691">logB (PRIO) = 11709.44</text>
</svg>
</body></html>
